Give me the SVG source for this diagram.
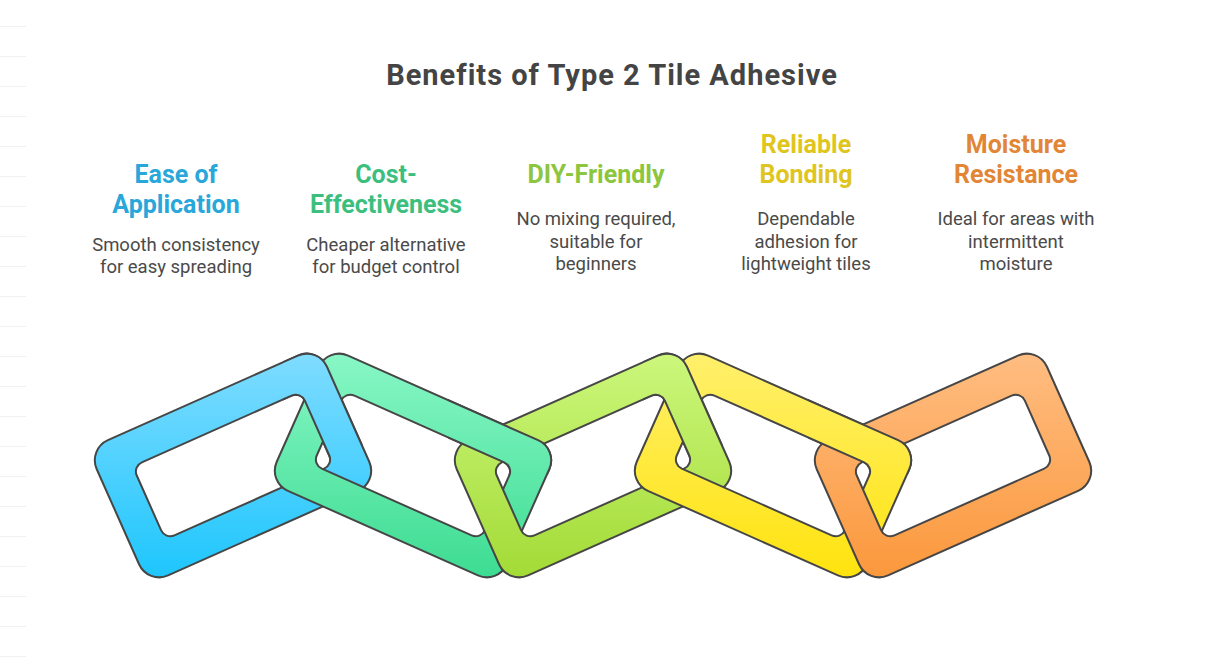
<svg xmlns="http://www.w3.org/2000/svg" xmlns:xlink="http://www.w3.org/1999/xlink" width="1210" height="665" viewBox="0 0 1210 665">
<style>
.title{font-family:Roboto,"Liberation Sans",sans-serif;font-weight:700;font-size:29px;letter-spacing:1px;fill:#444444;text-anchor:middle}
.head{font-family:Roboto,"Liberation Sans",sans-serif;font-weight:700;font-size:25px;text-anchor:middle}
.body{font-family:Roboto,"Liberation Sans",sans-serif;font-weight:400;font-size:18.5px;fill:#4a4a4a;text-anchor:middle}
.link{stroke:#464646;stroke-width:2;fill-rule:evenodd;stroke-linejoin:round}
.grid{stroke:#f1f1f1;stroke-width:1}
</style>
<defs>
<path id="ring" d="M -104 -74 H 104 A 22 22 0 0 1 126 -52 V 52 A 22 22 0 0 1 104 74 H -104 A 22 22 0 0 1 -126 52 V -52 A 22 22 0 0 1 -104 -74 Z M -82 -40 H 82 A 10 10 0 0 1 92 -30 V 30 A 10 10 0 0 1 82 40 H -82 A 10 10 0 0 1 -92 30 V -30 A 10 10 0 0 1 -82 -40 Z"/>
<linearGradient id="gBlue" gradientUnits="userSpaceOnUse" x1="45.8" y1="-102.8" x2="-45.8" y2="102.8"><stop offset="0" stop-color="#80dcff"/><stop offset="1" stop-color="#1ec6fd"/></linearGradient>
<linearGradient id="gGreen" gradientUnits="userSpaceOnUse" x1="-45.8" y1="-102.8" x2="45.8" y2="102.8"><stop offset="0" stop-color="#88f7c6"/><stop offset="1" stop-color="#3ddc92"/></linearGradient>
<linearGradient id="gLime" gradientUnits="userSpaceOnUse" x1="45.8" y1="-102.8" x2="-45.8" y2="102.8"><stop offset="0" stop-color="#ccf77c"/><stop offset="1" stop-color="#a3db36"/></linearGradient>
<linearGradient id="gYellow" gradientUnits="userSpaceOnUse" x1="-45.8" y1="-102.8" x2="45.8" y2="102.8"><stop offset="0" stop-color="#fff06c"/><stop offset="1" stop-color="#ffe30e"/></linearGradient>
<linearGradient id="gOrange" gradientUnits="userSpaceOnUse" x1="45.8" y1="-102.8" x2="-45.8" y2="102.8"><stop offset="0" stop-color="#ffbd82"/><stop offset="1" stop-color="#fb983c"/></linearGradient>
<clipPath id="cA0"><rect x="283" y="340" width="80" height="118"/></clipPath>
<clipPath id="cV1"><rect x="448" y="340" width="110" height="135"/></clipPath>
<clipPath id="cA2"><rect x="643" y="340" width="80" height="118"/></clipPath>
<clipPath id="cV3"><rect x="808" y="340" width="110" height="135"/></clipPath>
</defs>
<rect width="1210" height="665" fill="#ffffff"/>
<g id="edge-lines" class="grid">
<line x1="0" y1="26.5" x2="26" y2="26.5"/><line x1="0" y1="56.5" x2="26" y2="56.5"/><line x1="0" y1="86.5" x2="26" y2="86.5"/><line x1="0" y1="116.5" x2="26" y2="116.5"/><line x1="0" y1="146.5" x2="26" y2="146.5"/><line x1="0" y1="176.5" x2="26" y2="176.5"/><line x1="0" y1="206.5" x2="26" y2="206.5"/><line x1="0" y1="236.5" x2="26" y2="236.5"/><line x1="0" y1="266.5" x2="26" y2="266.5"/><line x1="0" y1="296.5" x2="26" y2="296.5"/><line x1="0" y1="326.5" x2="26" y2="326.5"/><line x1="0" y1="356.5" x2="26" y2="356.5"/><line x1="0" y1="386.5" x2="26" y2="386.5"/><line x1="0" y1="416.5" x2="26" y2="416.5"/><line x1="0" y1="446.5" x2="26" y2="446.5"/><line x1="0" y1="476.5" x2="26" y2="476.5"/><line x1="0" y1="506.5" x2="26" y2="506.5"/><line x1="0" y1="536.5" x2="26" y2="536.5"/><line x1="0" y1="566.5" x2="26" y2="566.5"/><line x1="0" y1="596.5" x2="26" y2="596.5"/><line x1="0" y1="626.5" x2="26" y2="626.5"/><line x1="0" y1="656.5" x2="26" y2="656.5"/>
</g>
<text class="title" x="612" y="85">Benefits of Type 2 Tile Adhesive</text>
<g id="node-ease">
<g id="link-ease" transform="translate(233,465.5) rotate(-24)"><use xlink:href="#ring" href="#ring" class="link" fill="url(#gBlue)"/></g>
<text class="head" fill="#29a7da" x="176" y="183">Ease of</text>
<text class="head" fill="#29a7da" x="176" y="213">Application</text>
<text class="body" x="176" y="250.5">Smooth consistency</text>
<text class="body" x="176" y="273">for easy spreading</text>
</g>
<g id="node-cost">
<g id="link-cost" transform="translate(413,465.5) rotate(24)"><use xlink:href="#ring" href="#ring" class="link" fill="url(#gGreen)"/></g>
<text class="head" fill="#3cbf7e" x="386" y="183">Cost-</text>
<text class="head" fill="#3cbf7e" x="386" y="213">Effectiveness</text>
<text class="body" x="386" y="250.5">Cheaper alternative</text>
<text class="body" x="386" y="273">for budget control</text>
</g>
<g id="node-diy">
<g id="link-diy" transform="translate(593,465.5) rotate(-24)"><use xlink:href="#ring" href="#ring" class="link" fill="url(#gLime)"/></g>
<text class="head" fill="#8cc63e" x="596" y="183">DIY-Friendly</text>
<text class="body" x="596" y="225">No mixing required,</text>
<text class="body" x="596" y="247.5">suitable for</text>
<text class="body" x="596" y="270">beginners</text>
</g>
<g id="node-reliable">
<g id="link-reliable" transform="translate(773,465.5) rotate(24)"><use xlink:href="#ring" href="#ring" class="link" fill="url(#gYellow)"/></g>
<text class="head" fill="#e0c51e" x="806" y="153">Reliable</text>
<text class="head" fill="#e0c51e" x="806" y="183">Bonding</text>
<text class="body" x="806" y="225">Dependable</text>
<text class="body" x="806" y="247.5">adhesion for</text>
<text class="body" x="806" y="270">lightweight tiles</text>
</g>
<g id="node-moisture">
<g id="link-moisture" transform="translate(953,465.5) rotate(-24)"><use xlink:href="#ring" href="#ring" class="link" fill="url(#gOrange)"/></g>
<text class="head" fill="#e28635" x="1016" y="153">Moisture</text>
<text class="head" fill="#e28635" x="1016" y="183">Resistance</text>
<text class="body" x="1016" y="225">Ideal for areas with</text>
<text class="body" x="1016" y="247.5">intermittent</text>
<text class="body" x="1016" y="270">moisture</text>
</g>
<g id="connectors">
<use xlink:href="#link-ease" href="#link-ease" clip-path="url(#cA0)"/>
<use xlink:href="#link-cost" href="#link-cost" clip-path="url(#cV1)"/>
<use xlink:href="#link-diy" href="#link-diy" clip-path="url(#cA2)"/>
<use xlink:href="#link-reliable" href="#link-reliable" clip-path="url(#cV3)"/>
</g>
</svg>
